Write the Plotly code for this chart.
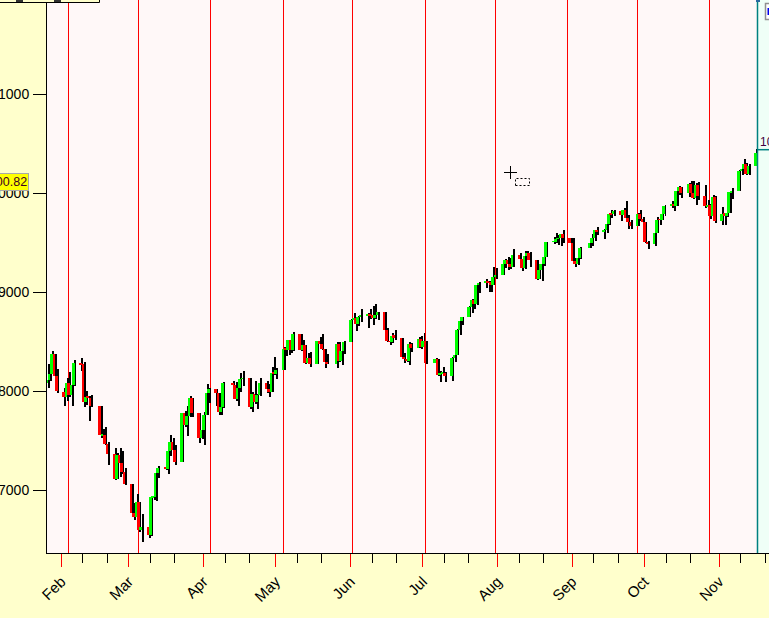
import plotly.graph_objects as go
import pandas as pd

# ---------------- data ----------------
month_days = {
    "2009-01": [26, 27, 28, 29, 30],
    "2009-02": [2, 3, 4, 5, 6, 9, 10, 11, 12, 13, 17, 18, 19, 20, 23, 24, 25, 26, 27],
    "2009-03": [2, 3, 4, 5, 6, 9, 10, 11, 12, 13, 16, 17, 18, 19, 20, 23, 24, 25, 26, 27, 30, 31],
    "2009-04": [1, 2, 3, 6, 7, 8, 9, 13, 14, 15, 16, 17, 20, 21, 22, 23, 24, 27, 28, 29, 30],
    "2009-05": [1, 4, 5, 6, 7, 8, 11, 12, 13, 14, 15, 18, 19, 20, 21, 22, 26, 27, 28, 29],
    "2009-06": [1, 2, 3, 4, 5, 8, 9, 10, 11, 12, 15, 16, 17, 18, 19, 22, 23, 24, 25, 26, 29, 30],
    "2009-07": [1, 2, 6, 7, 8, 9, 10, 13, 14, 15, 16, 17, 20, 21, 22, 23, 24, 27, 28, 29, 30, 31],
    "2009-08": [3, 4, 5, 6, 7, 10, 11, 12, 13, 14, 17, 18, 19, 20, 21, 24, 25, 26, 27, 28, 31],
    "2009-09": [1, 2, 3, 4, 8, 9, 10, 11, 14, 15, 16, 17, 18, 21, 22, 23, 24, 25, 28, 29, 30],
    "2009-10": [1, 2, 5, 6, 7, 8, 9, 12, 13, 14, 15, 16, 19, 20, 21, 22, 23, 26, 27, 28, 29, 30],
    "2009-11": [2, 3, 4, 5, 6, 9, 10, 11, 12, 13, 16],
}
dates = [f"{m}-{d:02d}" for m, days in month_days.items() for d in days]

opens = [
    8078, 8116, 8175, 8373, 8149,
    7995, 7937, 8078, 7956, 8063, 8281, 8270, 7889, 7940, 7933, 7850, 7553, 7556, 7466, 7366, 7115, 7351, 7271, 7182,
    7063, 6763, 6726, 6874, 6595, 6626, 6547, 6926, 6931, 7170, 7224, 7217, 7396, 7487, 7401, 7278, 7776, 7660, 7750, 7925, 7776, 7522,
    7609, 7762, 7978, 8018, 7976, 7790, 7837, 8083, 8058, 7920, 8030, 8125, 8131, 7842, 7970, 7887, 7957, 8076, 8025, 7989, 8186,
    8168, 8212, 8427, 8411, 8512, 8410, 8575, 8419, 8469, 8285, 8331, 8269, 8504, 8475, 8422, 8292, 8277, 8473, 8300, 8404,
    8500, 8721, 8741, 8675, 8750, 8763, 8764, 8763, 8739, 8771, 8799, 8612, 8505, 8497, 8556, 8540, 8339, 8323, 8300, 8472, 8438, 8529,
    8447, 8504, 8281, 8325, 8164, 8178, 8183, 8147, 8332, 8359, 8616, 8712, 8744, 8848, 8916, 8881, 9069, 9093, 9109, 9097, 9071, 9154,
    9172, 9287, 9320, 9281, 9256, 9370, 9338, 9241, 9362, 9398, 9321, 9135, 9218, 9279, 9350, 9506, 9509, 9539, 9544, 9581, 9544,
    9496, 9311, 9281, 9345, 9441, 9497, 9547, 9627, 9605, 9627, 9683, 9792, 9784, 9820, 9779, 9830, 9749, 9707, 9665, 9789, 9742,
    9712, 9509, 9488, 9600, 9731, 9726, 9787, 9865, 9886, 9871, 10016, 10063, 9996, 10092, 9996, 9949, 10081, 9972, 9868, 9882, 9763, 9963,
    9713, 9789, 9772, 9802, 10006, 10023, 10227, 10247, 10291, 10197, 10271,
]
highs = [
    8270, 8235, 8400, 8375, 8220,
    8030, 8130, 8190, 8110, 8315, 8335, 8290, 8000, 7945, 7960, 7850, 7620, 7640, 7480, 7420, 7370, 7420, 7390, 7220,
    7063, 6870, 6960, 6880, 6760, 6710, 6926, 7040, 7180, 7240, 7390, 7400, 7560, 7530, 7450, 7780, 7800, 7850, 7950, 7925, 7776, 7750,
    7790, 8075, 8030, 8018, 7976, 7900, 8090, 8100, 8090, 8050, 8180, 8200, 8131, 7990, 8100, 7970, 8130, 8100, 8070, 8240, 8340,
    8230, 8440, 8440, 8520, 8580, 8600, 8575, 8520, 8469, 8380, 8390, 8510, 8550, 8580, 8422, 8370, 8490, 8490, 8420, 8510,
    8730, 8790, 8741, 8760, 8830, 8790, 8830, 8860, 8880, 8800, 8799, 8640, 8560, 8590, 8620, 8540, 8380, 8440, 8490, 8480, 8550, 8560,
    8590, 8504, 8330, 8325, 8200, 8240, 8190, 8340, 8380, 8630, 8720, 8750, 8860, 8930, 8930, 9080, 9100, 9130, 9110, 9100, 9250, 9240,
    9300, 9330, 9350, 9340, 9430, 9390, 9338, 9410, 9410, 9400, 9321, 9230, 9290, 9370, 9510, 9560, 9600, 9580, 9590, 9630, 9544,
    9550, 9340, 9350, 9450, 9510, 9590, 9630, 9660, 9640, 9700, 9800, 9830, 9830, 9820, 9850, 9920, 9780, 9730, 9800, 9830, 9760,
    9712, 9520, 9620, 9760, 9740, 9830, 9880, 9920, 9900, 10030, 10070, 10063, 10100, 10120, 10120, 10100, 10110, 10080, 9930, 9890, 9980, 9970,
    9860, 9790, 9950, 10020, 10050, 10230, 10250, 10340, 10300, 10290, 10440,
]
lows = [
    8030, 8100, 8170, 8130, 7980,
    7850, 7900, 7940, 7850, 8050, 8200, 7840, 7860, 7700, 7840, 7530, 7460, 7450, 7250, 7100, 7110, 7130, 7160, 7050,
    6750, 6700, 6720, 6580, 6470, 6516, 6540, 6900, 6890, 7120, 7200, 7160, 7340, 7380, 7250, 7278, 7640, 7550, 7740, 7740, 7470, 7520,
    7450, 7760, 7880, 7850, 7760, 7760, 7830, 7960, 7900, 7850, 7990, 8050, 7820, 7790, 7870, 7820, 7950, 7980, 7940, 7985, 8160,
    8120, 8212, 8350, 8360, 8380, 8405, 8400, 8370, 8270, 8270, 8240, 8269, 8440, 8410, 8230, 8270, 8230, 8290, 8260, 8370,
    8500, 8690, 8610, 8660, 8700, 8640, 8730, 8670, 8730, 8720, 8580, 8500, 8460, 8480, 8520, 8320, 8280, 8290, 8260, 8390, 8430, 8420,
    8447, 8270, 8210, 8150, 8090, 8150, 8090, 8100, 8290, 8359, 8570, 8670, 8744, 8790, 8830, 8870, 8990, 9040, 9000, 9000, 9071, 9130,
    9172, 9240, 9220, 9230, 9256, 9300, 9210, 9230, 9320, 9250, 9120, 9130, 9110, 9260, 9350, 9480, 9500, 9470, 9460, 9500, 9450,
    9300, 9250, 9270, 9330, 9441, 9460, 9520, 9580, 9540, 9600, 9680, 9750, 9770, 9720, 9770, 9740, 9640, 9640, 9665, 9720, 9600,
    9500, 9430, 9460, 9600, 9680, 9726, 9770, 9850, 9820, 9871, 9980, 9950, 9960, 9960, 9940, 9880, 9930, 9850, 9840, 9740, 9763, 9700,
    9680, 9680, 9760, 9802, 9940, 10023, 10180, 10240, 10180, 10180, 10271,
]
closes = [
    8116, 8175, 8375, 8149, 8001,
    7937, 8078, 7957, 8063, 8281, 8271, 7889, 7940, 7933, 7850, 7553, 7556, 7466, 7366, 7115, 7351, 7271, 7182, 7063,
    6763, 6726, 6876, 6594, 6627, 6547, 6926, 6930, 7170, 7224, 7217, 7396, 7487, 7401, 7278, 7776, 7660, 7750, 7925, 7776, 7522, 7609,
    7762, 7978, 8018, 7976, 7790, 7837, 8083, 8058, 7920, 8030, 8125, 8131, 7842, 7970, 7887, 7957, 8076, 8025, 7989, 8186, 8168,
    8212, 8427, 8411, 8512, 8410, 8575, 8419, 8469, 8285, 8331, 8269, 8504, 8475, 8422, 8292, 8277, 8473, 8300, 8404, 8500,
    8721, 8741, 8675, 8750, 8763, 8764, 8763, 8739, 8771, 8799, 8612, 8505, 8497, 8556, 8540, 8339, 8323, 8300, 8472, 8438, 8529, 8447,
    8504, 8281, 8325, 8164, 8178, 8183, 8147, 8332, 8359, 8616, 8712, 8744, 8848, 8916, 8881, 9069, 9093, 9109, 9097, 9071, 9154, 9172,
    9287, 9320, 9281, 9256, 9370, 9338, 9241, 9362, 9398, 9321, 9135, 9218, 9279, 9350, 9506, 9509, 9539, 9544, 9581, 9544, 9496,
    9311, 9281, 9345, 9441, 9497, 9547, 9627, 9605, 9627, 9683, 9792, 9784, 9820, 9779, 9830, 9749, 9707, 9665, 9789, 9742, 9712,
    9509, 9488, 9600, 9731, 9726, 9787, 9865, 9886, 9871, 10016, 10063, 9996, 10092, 9996, 9949, 10081, 9972, 9868, 9882, 9763, 9963, 9713,
    9789, 9772, 9802, 10006, 10023, 10227, 10247, 10291, 10197, 10270, 10407,
]
assert len(dates) == len(opens) == len(highs) == len(lows) == len(closes), (
    len(dates), len(opens), len(highs), len(lows), len(closes))

cycle_dates = ["2009-02-04", "2009-03-05", "2009-04-04", "2009-05-04", "2009-06-02",
               "2009-07-02", "2009-07-31", "2009-08-30", "2009-09-28", "2009-10-28"]
month_ticks = ["2009-02-01", "2009-03-01", "2009-04-01", "2009-05-01", "2009-06-01",
               "2009-07-01", "2009-08-01", "2009-09-01", "2009-10-01", "2009-11-01"]
month_labels = ["Feb", "Mar", "Apr", "May", "Jun", "Jul", "Aug", "Sep", "Oct", "Nov"]
minor_ticks = [f"2009-{m:02d}-{d}" for m in range(2, 12) for d in (10, 20)]
y_ticks = [7000, 8000, 9000, 10000, 11000]
cursor_date = "2009-11-17"
last_price = 10437.42
marker_label = "10100.82"

# ---------------- layout geometry ----------------
W, H = 769, 618
ML, MB = 47, 65
PW, PH = W - ML, H - MB
PX_PER_DAY = 2.41
ref = pd.Timestamp("2009-02-01")
x_left = ref + pd.Timedelta(days=(ML - 61.3) / PX_PER_DAY)
x_right = ref + pd.Timedelta(days=(W - 61.3) / PX_PER_DAY)
y_lo = 8000 + (391 - PH) / 0.099
y_hi = 8000 + 391 / 0.099
MS_PX = 86400000 / PX_PER_DAY


def px_x(p):
    return (p - ML) / PW


def px_y(p):
    return 1 - p / PH


def crisp(d):
    """Snap a date to the nearest pixel centre so 1px lines render sharply."""
    p = (pd.Timestamp(d) - x_left) / pd.Timedelta(milliseconds=MS_PX)
    p = round(p - 0.5) + 0.5
    t = (x_left + pd.Timedelta(milliseconds=p * MS_PX)).round("ms")
    return t.strftime("%Y-%m-%d %H:%M:%S.%f")[:-3]


FONT = "Liberation Sans, Arial, sans-serif"

body_h = [c - o if abs(c - o) >= 6 else 6 for o, c in zip(opens, closes)]
body_col = ["#00ff00" if c >= o else "#ff0000" for o, c in zip(opens, closes)]

fig = go.Figure()
fig.add_trace(go.Bar(
    x=dates, base=lows, y=[h - l for h, l in zip(highs, lows)],
    width=1.0 * MS_PX, offset=1.2 * MS_PX,
    marker=dict(color="#000000", line=dict(width=0)), hoverinfo="skip"))
fig.add_trace(go.Bar(
    x=dates, base=opens, y=body_h,
    width=2.6 * MS_PX, offset=-1.4 * MS_PX,
    marker=dict(color=body_col, line=dict(width=0)), hoverinfo="skip"))

cur = crisp(cursor_date)
x_right_s = x_right.round("ms").strftime("%Y-%m-%d %H:%M:%S.%f")[:-3]
x_left_s = x_left.round("ms").strftime("%Y-%m-%d %H:%M:%S.%f")[:-3]
shapes = []
shapes.append(dict(type="rect", xref="x", yref="paper", x0=cur, x1=x_right_s,
                   y0=0, y1=1, fillcolor="#effff7", line=dict(width=0), layer="below"))
for d in cycle_dates:
    c = crisp(d)
    shapes.append(dict(type="line", xref="x", yref="paper", x0=c, x1=c, y0=0, y1=1,
                       line=dict(color="#ff0000", width=1), layer="below"))
shapes.append(dict(type="line", xref="x", yref="paper", x0=cur, x1=cur,
                   y0=0, y1=1, line=dict(color="#008080", width=1.5)))
shapes.append(dict(type="line", xref="x", yref="y", x0=cur, x1=x_right_s,
                   y0=last_price, y1=last_price, line=dict(color="#008080", width=1.5)))
shapes.append(dict(type="rect", xref="paper", yref="paper", x0=px_x(-3), x1=px_x(99.5),
                   y0=px_y(2.5), y1=px_y(-20), fillcolor="#ffffcc",
                   line=dict(color="#000000", width=1)))
for a, b in ((16, 23), (54, 61)):
    shapes.append(dict(type="rect", xref="paper", yref="paper", x0=px_x(a), x1=px_x(b),
                       y0=px_y(2), y1=px_y(0), fillcolor="#303030", line=dict(width=0)))
shapes.append(dict(type="rect", xref="paper", yref="paper", x0=px_x(765.5), x1=px_x(773),
                   y0=px_y(19.5), y1=px_y(3.5), fillcolor="#ffffff",
                   line=dict(color="#909090", width=1.5)))
shapes.append(dict(type="rect", xref="paper", yref="paper", x0=px_x(767.5), x1=px_x(773),
                   y0=px_y(15), y1=px_y(8), fillcolor="#0000ee", line=dict(width=0)))
shapes.append(dict(type="rect", xref="paper", yref="paper", x0=px_x(756), x1=px_x(760),
                   y0=px_y(2), y1=px_y(-1), fillcolor="#2a6aa0", line=dict(width=0)))
shapes.append(dict(type="line", xref="paper", yref="paper", x0=px_x(504), x1=px_x(517),
                   y0=px_y(172.5), y1=px_y(172.5), line=dict(color="#000000", width=1)))
shapes.append(dict(type="line", xref="paper", yref="paper", x0=px_x(510.5), x1=px_x(510.5),
                   y0=px_y(166), y1=px_y(179), line=dict(color="#000000", width=1)))
shapes.append(dict(type="rect", xref="paper", yref="paper", x0=px_x(515.5), x1=px_x(529.5),
                   y0=px_y(185.5), y1=px_y(178.5),
                   line=dict(color="#000000", width=1, dash="2px,2px")))

annotations = [
    dict(xref="paper", yref="paper", x=px_x(29), y=px_y(182), xanchor="right", yanchor="middle",
         text=marker_label, showarrow=False, bgcolor="#ffff00", bordercolor="#a8a8a8",
         borderwidth=1, borderpad=1, font=dict(family=FONT, size=12.5, color="#400020")),
    dict(xref="x", yref="y", x=cur, y=last_price, xanchor="left", yanchor="bottom",
         xshift=0, yshift=-1, text=f"{last_price:.2f}", showarrow=False,
         font=dict(family=FONT, size=12, color="#400040")),
]

fig.update_layout(
    width=W, height=H,
    margin=dict(l=ML, r=0, t=0, b=MB, pad=0, autoexpand=False),
    paper_bgcolor="#ffffcc", plot_bgcolor="#fff8f8",
    barmode="overlay", bargap=0, showlegend=False,
    shapes=shapes, annotations=annotations,
    font=dict(family=FONT, size=14, color="#000000"),
)
fig.update_xaxes(
    type="date", range=[x_left_s, x_right_s], automargin=False,
    showgrid=False, zeroline=False, showline=True, linecolor="#000000", linewidth=1,
    tickmode="array", tickvals=month_ticks, ticktext=month_labels,
    ticks="outside", ticklen=13, tickcolor="#ff0000", tickwidth=1, tickangle=-45,
    tickfont=dict(family=FONT, size=15, color="#000000"),
    minor=dict(tickmode="array", tickvals=minor_ticks, ticks="outside", ticklen=9,
               tickcolor="#000000", tickwidth=1, showgrid=False),
)
fig.update_yaxes(
    range=[y_lo, y_hi], automargin=False,
    showgrid=False, zeroline=False, showline=True, linecolor="#000000", linewidth=1,
    tickmode="array", tickvals=y_ticks, ticktext=[str(v) for v in y_ticks],
    ticks="outside", ticklen=13, tickcolor="#000000", tickwidth=1,
    ticklabelstandoff=1,
    tickfont=dict(family=FONT, size=14, color="#000000"),
)

fig.write_html("out.html", config={"displayModeBar": False},
               post_script="document.body.style.margin='0';document.body.style.overflow='hidden';")
